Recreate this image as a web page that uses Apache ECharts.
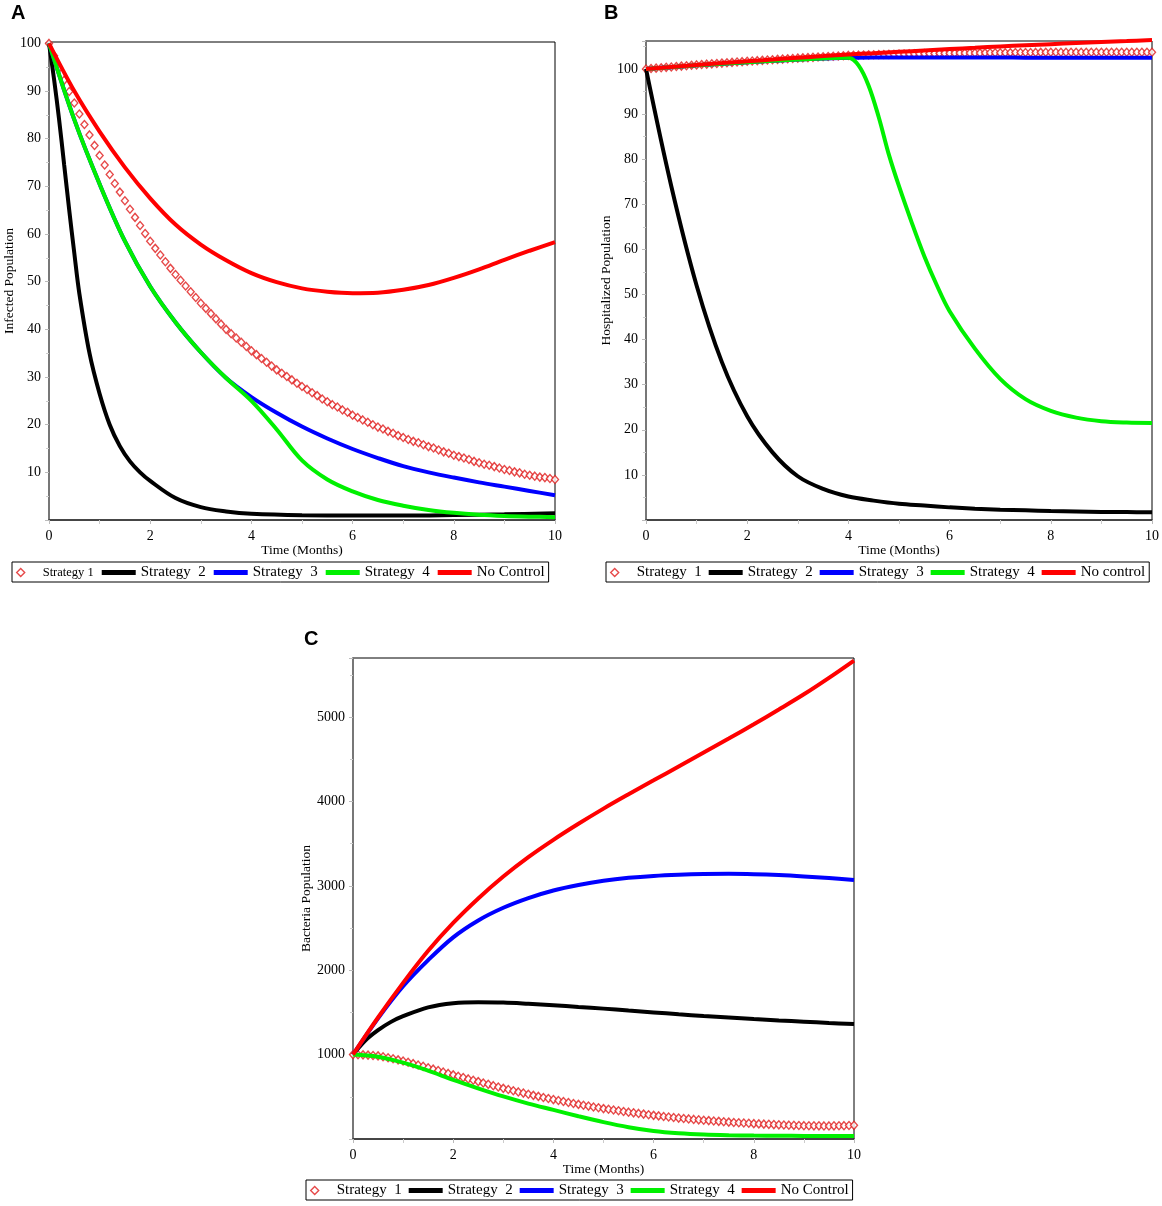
<!DOCTYPE html>
<html>
<head>
<meta charset="utf-8">
<title>Control strategies</title>
<script src="https://cdn.jsdelivr.net/npm/echarts/dist/echarts.min.js"></script>
<style>
  html, body { margin: 0; padding: 0; background: #fff; }
  #chart { width: 1162px; height: 1206px; }
</style>
</head>
<body>
<div id="chart"></div>
<script>
// time grids (months)
const tHalf = [0, 0.5, 1, 1.5, 2, 2.5, 3, 3.5, 4, 4.5, 5, 5.5, 6, 6.5, 7, 7.5, 8, 8.5, 9, 9.5, 10];
const tBlackA = [0, 0.1, 0.2, 0.3, 0.4, 0.5, 0.6, 0.8, 1, 1.2, 1.4, 1.6, 1.8, 2, 2.5, 3, 3.5, 4, 5, 6, 7, 8, 9, 10];
const tGreenB = [0, 1, 2, 3, 4, 4.2, 4.4, 4.6, 4.8, 5, 5.25, 5.5, 5.75, 6, 6.5, 7, 7.5, 8, 8.5, 9, 9.5, 10];
const tBlackC = [0, 0.25, 0.5, 0.75, 1, 1.5, 2, 2.5, 3, 3.5, 4, 4.5, 5, 5.5, 6, 6.5, 7, 7.5, 8, 8.5, 9, 9.5, 10];
// diamonds are sampled every 0.1 month
const tDiamond = Array.from({ length: 101 }, (_, i) => i / 10);

const xTicks = [0, 2, 4, 6, 8, 10];

// panel A: infected population
const infS1 = [100, 97.4, 94.8, 92.3, 89.9, 87.5,
  85.2, 83.0, 80.8, 78.6, 76.5,
  74.5, 72.5, 70.6, 68.8, 67.0,
  65.2, 63.5, 61.8, 60.1, 58.5,
  57.0, 55.6, 54.2, 52.8, 51.5,
  50.3, 49.1, 47.9, 46.7, 45.5,
  44.4, 43.3, 42.2, 41.1, 40.0,
  39.1, 38.2, 37.3, 36.4, 35.5,
  34.7, 33.9, 33.1, 32.3, 31.5,
  30.8, 30.1, 29.4, 28.7, 28.0,
  27.4, 26.7, 26.1, 25.4, 24.8,
  24.2, 23.7, 23.1, 22.6, 22.0,
  21.5, 21.0, 20.5, 20.0, 19.5,
  19.1, 18.6, 18.2, 17.7, 17.3,
  16.9, 16.5, 16.2, 15.8, 15.4,
  15.1, 14.7, 14.3, 14.0, 13.6,
  13.3, 13.0, 12.7, 12.3, 12.0,
  11.7, 11.5, 11.2, 10.9, 10.6,
  10.4, 10.1, 9.9, 9.6, 9.4,
  9.2, 9.0, 8.9, 8.7, 8.5];
const infS2 = [100, 92.5, 84, 74.5, 65, 56, 47.5, 35, 26.5, 20, 15.5, 12.3, 10, 8.2, 4.6, 2.7, 1.8, 1.3, 1.0, 0.95, 0.95, 1.05, 1.2, 1.4];
const infS3 = [100, 84, 70.5, 58.5, 49, 41.5, 35.2, 29.8, 25.8, 22.5, 19.6, 17.1, 14.9, 13.0, 11.3, 10.0, 8.9, 7.9, 7.0, 6.1, 5.2];
const infS4 = [100, 84, 70.5, 58.5, 49, 41.5, 35.2, 29.8, 25, 19, 12.5, 8.5, 6, 4.2, 3, 2.1, 1.5, 1.1, 0.85, 0.7, 0.6];
const infNo = [100, 90, 81.5, 74, 67.5, 62, 57.8, 54.5, 51.8, 49.9, 48.6, 47.9, 47.6, 47.7, 48.3, 49.3, 50.8, 52.6, 54.6, 56.5, 58.3];

// panel B: hospitalized population
const hosS1 = [100, 100.09, 100.18, 100.27, 100.36, 100.45,
  100.54, 100.63, 100.72, 100.81, 100.9,
  100.98, 101.06, 101.14, 101.22, 101.3,
  101.38, 101.46, 101.54, 101.62, 101.7,
  101.77, 101.84, 101.91, 101.98, 102.05,
  102.12, 102.19, 102.26, 102.33, 102.4,
  102.46, 102.52, 102.58, 102.64, 102.7,
  102.76, 102.82, 102.88, 102.94, 103.0,
  103.03, 103.06, 103.09, 103.12, 103.15,
  103.18, 103.21, 103.24, 103.27, 103.3,
  103.32, 103.34, 103.36, 103.38, 103.4,
  103.42, 103.44, 103.46, 103.48, 103.5,
  103.51, 103.52, 103.53, 103.54, 103.55,
  103.56, 103.57, 103.58, 103.59, 103.6,
  103.61, 103.62, 103.63, 103.64, 103.65,
  103.66, 103.67, 103.68, 103.69, 103.7,
  103.7, 103.7, 103.7, 103.7, 103.7,
  103.7, 103.7, 103.7, 103.7, 103.7,
  103.7, 103.7, 103.7, 103.7, 103.7,
  103.7, 103.7, 103.7, 103.7, 103.7];
const hosS2 = [100, 74, 52, 35, 23, 15, 9.7, 6.9, 5.2, 4.3, 3.6, 3.2, 2.8, 2.5, 2.3, 2.15, 2.0, 1.9, 1.8, 1.75, 1.7];
const hosS3 = [100, 100.4, 100.8, 101.15, 101.5, 101.8, 102.1, 102.3, 102.5, 102.55, 102.55, 102.55, 102.55, 102.55, 102.55, 102.5, 102.5, 102.5, 102.5, 102.5, 102.5];
const hosS4 = [100, 100.8, 101.5, 102.1, 102.5, 100.8, 96.3, 89.3, 81, 74, 66, 58.5, 52, 46.3, 38, 31.3, 26.8, 24.2, 22.7, 21.9, 21.6, 21.5];
const hosNo = [100, 100.45, 100.9, 101.3, 101.7, 102.1, 102.5, 102.85, 103.2, 103.5, 103.8, 104.1, 104.4, 104.7, 105, 105.25, 105.5, 105.75, 106, 106.2, 106.4];

// panel C: bacteria population
const bacS1 = [1000, 999, 997, 994, 990, 985,
  975, 963, 951, 938, 925,
  909, 893, 877, 861, 845,
  828, 811, 794, 777, 760,
  744, 728, 712, 696, 680,
  664, 648, 632, 616, 600,
  586, 572, 558, 544, 530,
  517, 505, 492, 480, 467,
  456, 444, 433, 421, 410,
  400, 390, 380, 370, 360,
  352, 343, 335, 326, 318,
  310, 303, 295, 288, 280,
  274, 267, 261, 254, 248,
  243, 238, 232, 227, 222,
  218, 213, 209, 204, 200,
  196, 193, 189, 186, 182,
  179, 176, 174, 171, 168,
  166, 164, 162, 160, 158,
  157, 156, 156, 155, 155,
  156, 157, 158, 160, 162];
const bacS2 = [1000, 1170, 1290, 1385, 1455, 1560, 1610, 1622, 1618, 1603, 1585, 1565, 1545, 1522, 1500, 1478, 1458, 1440, 1422, 1405, 1390, 1375, 1362];
const bacS3 = [1000, 1430, 1810, 2120, 2390, 2590, 2740, 2855, 2945, 3010, 3060, 3095, 3118, 3132, 3140, 3142, 3138, 3128, 3112, 3092, 3070];
const bacS4 = [1000, 975, 905, 810, 700, 600, 505, 420, 345, 270, 200, 140, 95, 68, 52, 44, 40, 38, 37, 37, 37];
const bacNo = [1000, 1440, 1850, 2230, 2560, 2850, 3110, 3340, 3545, 3735, 3915, 4085, 4250, 4415, 4580, 4745, 4915, 5090, 5270, 5465, 5670];

const legendA = ['Strategy 1', 'Strategy  2', 'Strategy  3', 'Strategy  4', 'No Control'];
const legendB = ['Strategy  1', 'Strategy  2', 'Strategy  3', 'Strategy  4', 'No control'];
const legendC = ['Strategy  1', 'Strategy  2', 'Strategy  3', 'Strategy  4', 'No Control'];

const SERIF = '"Liberation Serif", "Times New Roman", serif';
const SANS = '"Liberation Sans", Arial, sans-serif';
const DIAMOND = '#e01b1b';
const BLACK = '#000000';
const BLUE = '#0000ff';
const GREEN = '#00f000';
const RED = '#ff0000';

function pairs(xs, ys) {
  return ys.map((y, i) => [xs[i], y]);
}

function line(name, xs, ys, color, gi) {
  return {
    type: 'line', name: name, xAxisIndex: gi, yAxisIndex: gi,
    data: pairs(xs, ys),
    showSymbol: false, smooth: 0.35, clip: false,
    color: color,
    lineStyle: { color: color, width: 4 },
    itemStyle: { color: color, borderWidth: 0 },
    z: 3, silent: true
  };
}

function diamonds(name, ys, gi) {
  return {
    type: 'scatter', name: name, xAxisIndex: gi, yAxisIndex: gi,
    data: pairs(tDiamond, ys),
    symbol: 'diamond', symbolSize: [7, 8],
    itemStyle: { color: '#ffffff', borderColor: DIAMOND, borderWidth: 1.4 },
    z: 2, silent: true
  };
}

function xAxis(gi, gap) {
  return {
    type: 'value', gridIndex: gi, min: 0, max: 10, interval: 2,
    name: 'Time (Months)', nameLocation: 'middle', nameGap: gap,
    nameTextStyle: { fontFamily: SERIF, fontSize: 13.5, color: '#000' },
    axisLine: { show: true, lineStyle: { color: '#333', width: 1.5 } },
    axisTick: { show: true, length: 4, lineStyle: { color: '#bbb' } },
    minorTick: { show: true, splitNumber: 2, length: 4, lineStyle: { color: '#ccc' } },
    axisLabel: {
      fontFamily: SERIF, fontSize: 14, color: '#000', margin: 9,
      formatter: v => (xTicks.indexOf(v) >= 0 ? String(v) : '')
    },
    splitLine: { show: false }
  };
}

function yAxis(gi, max, interval, name, gap) {
  return {
    type: 'value', gridIndex: gi, min: 0, max: max, interval: interval,
    name: name, nameLocation: 'middle', nameGap: gap,
    nameTextStyle: { fontFamily: SERIF, fontSize: 13.5, color: '#000' },
    axisLine: { show: true, lineStyle: { color: '#777', width: 2 } },
    axisTick: { show: true, length: 4, lineStyle: { color: '#bbb' } },
    minorTick: { show: true, splitNumber: 2, length: 3, lineStyle: { color: '#ccc' } },
    axisLabel: {
      fontFamily: SERIF, fontSize: 14, color: '#000', margin: 8,
      formatter: v => (v > 0 && v % interval === 0 ? String(v) : '')
    },
    splitLine: { show: false }
  };
}

function legend(left, top, names, gap, smallFirst) {
  return {
    left: left, top: top, width: 600, orient: 'horizontal',
    itemWidth: 34, itemHeight: 8, itemGap: gap,
    padding: [3, 4, 2, 4],
    borderColor: '#000', borderWidth: 1,
    selectedMode: false,
    textStyle: { fontFamily: SERIF, fontSize: 15, color: '#000' },
    data: names.map((n, i) => {
      if (i === 0) {
        const item = {
          name: n, icon: 'path://M5 0L10 5L5 10L0 5Z',
          itemStyle: { color: '#ffffff', borderColor: DIAMOND, borderWidth: 1.4 }
        };
        if (smallFirst) item.textStyle = { fontSize: 12.5 };
        return item;
      }
      return { name: n, icon: 'path://M0 0H40V6H0Z', itemStyle: { borderWidth: 0 } };
    })
  };
}

const chart = echarts.init(document.getElementById('chart'), null, { renderer: 'canvas' });

const gridStyle = { show: true, borderColor: '#000', borderWidth: 1, containLabel: false };

chart.setOption({
  animation: false,
  backgroundColor: '#ffffff',
  title: [
    { text: 'A', left: 11, top: 3, padding: 0, textStyle: { fontFamily: SANS, fontWeight: 'bold', fontSize: 20, color: '#000' } },
    { text: 'B', left: 604, top: 3, padding: 0, textStyle: { fontFamily: SANS, fontWeight: 'bold', fontSize: 20, color: '#000' } },
    { text: 'C', left: 304, top: 629, padding: 0, textStyle: { fontFamily: SANS, fontWeight: 'bold', fontSize: 20, color: '#000' } }
  ],
  grid: [
    Object.assign({ left: 49, top: 42, width: 506, height: 478 }, gridStyle),
    Object.assign({ left: 646, top: 41, width: 506, height: 479 }, gridStyle),
    Object.assign({ left: 353, top: 658, width: 501, height: 481 }, gridStyle)
  ],
  xAxis: [xAxis(0, 23), xAxis(1, 23), xAxis(2, 22)],
  yAxis: [
    yAxis(0, 100.3, 10, 'Infected Population', 31),
    yAxis(1, 106.2, 10, 'Hospitalized Population', 31),
    yAxis(2, 5700, 1000, 'Bacteria Population', 36)
  ],
  legend: [
    legend(12, 562, legendA, 8, true),
    legend(606, 562, legendB, 7, false),
    legend(306, 1180, legendC, 7, false)
  ],
  series: [
    diamonds(legendA[0], infS1, 0),
    line(legendA[1], tBlackA, infS2, BLACK, 0),
    line(legendA[2], tHalf, infS3, BLUE, 0),
    line(legendA[3], tHalf, infS4, GREEN, 0),
    line(legendA[4], tHalf, infNo, RED, 0),

    diamonds(legendB[0], hosS1, 1),
    line(legendB[1], tHalf, hosS2, BLACK, 1),
    line(legendB[2], tHalf, hosS3, BLUE, 1),
    line(legendB[3], tGreenB, hosS4, GREEN, 1),
    line(legendB[4], tHalf, hosNo, RED, 1),

    diamonds(legendC[0], bacS1, 2),
    line(legendC[1], tBlackC, bacS2, BLACK, 2),
    line(legendC[2], tHalf, bacS3, BLUE, 2),
    line(legendC[3], tHalf, bacS4, GREEN, 2),
    line(legendC[4], tHalf, bacNo, RED, 2)
  ]
});
</script>
</body>
</html>
